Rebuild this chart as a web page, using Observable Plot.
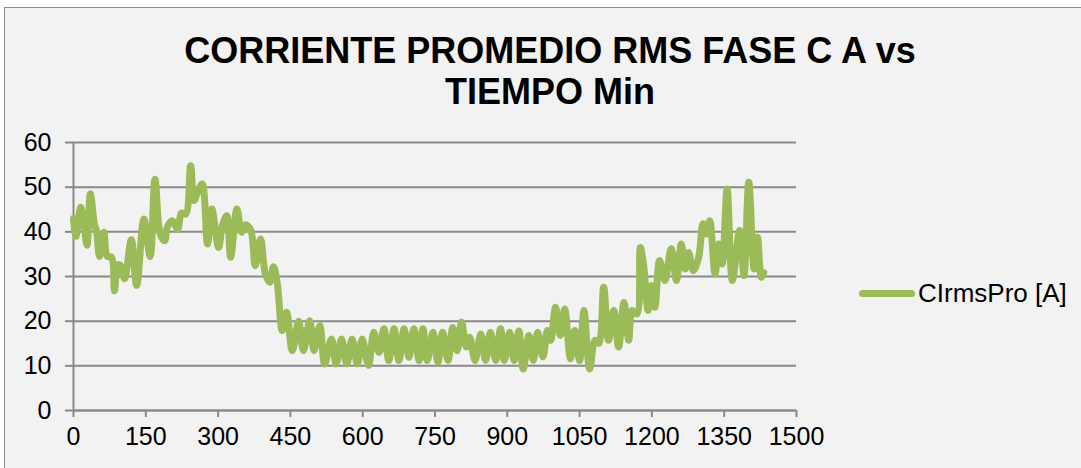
<!DOCTYPE html>
<html>
<head>
<meta charset="utf-8">
<script src="https://cdn.jsdelivr.net/npm/d3@7"></script>
<script src="https://cdn.jsdelivr.net/npm/@observablehq/plot@0.6"></script>
<style>
  html, body { margin: 0; padding: 0; background: #ffffff; }
  #wrap { position: relative; width: 1081px; height: 468px; overflow: hidden; font-family: "Liberation Sans", Arial, sans-serif; }
  #frame { position: absolute; left: 4px; top: 7px; width: 1100px; height: 480px; background: #f2f2f2; border: 1.5px solid #8a8a8a; box-sizing: border-box; }
  #title { position: absolute; left: 0; top: 30px; width: 1100px; text-align: center; font-weight: bold; font-size: 36px; line-height: 41px; color: #000; }
  #chart { position: absolute; left: 0; top: 120px; }
  #legend { position: absolute; left: 859px; top: 277px; height: 32px; display: flex; align-items: center; font-size: 26px; color: #000; }
  #legend .sw { width: 56px; height: 7px; border-radius: 4px; background: #9bbb59; margin-right: 3px; }
</style>
</head>
<body>
<div id="wrap">
  <div id="frame"></div>
  <div id="title">CORRIENTE PROMEDIO RMS FASE C A vs<br>TIEMPO Min</div>
  <div id="chart"></div>
  <div id="legend"><div class="sw"></div><span id="legendText"></span></div>
</div>
<script>
const seriesName = "CIrmsPro [A]";
const minutes = [0,5,15,22,28,35,43,48,54,63,70,79,85,92,98,106,120,131,146,159,169,180,189,195,205,216,224,233,243,250,257,267,278,287,301,309,318,326,339,349,357,368,377,388,398,407,415,423,433,442,454,467,477,490,499,511,521,535,545,556,567,578,589,599,612,623,634,644,654,665,675,686,696,706,717,725,734,746,756,766,777,787,796,805,815,822,833,845,855,865,876,886,894,905,914,924,933,945,954,963,974,983,990,1000,1010,1019,1031,1040,1050,1059,1071,1082,1090,1100,1110,1121,1131,1142,1152,1159,1169,1176,1183,1192,1199,1206,1216,1227,1240,1251,1261,1269,1276,1286,1297,1306,1313,1320,1331,1339,1346,1356,1367,1382,1391,1401,1412,1419,1427,1432];
const current = [43,39,45.5,41.5,37,48.5,42,40,34.5,39.9,34.5,34.3,26.8,32.6,32.4,29.5,38.2,28,42.9,34.5,51.8,39.5,38,41.2,42.5,40.6,44.2,44,54.8,47,48.8,50.7,37.3,45.1,36.5,41.4,43.6,34.3,45.1,39.9,41.6,40.3,32.4,38.4,30.6,28.7,32.2,28.3,17.9,22,13.4,20,13.4,20.1,13.4,19,10.4,16,10.4,16,10.4,16,10.4,16,10.1,17.5,13,18.3,11.2,18.3,11.2,18.3,11.9,18.3,11.2,18.3,11.2,17.5,10.8,17.5,11.2,18.6,13.4,19.8,14.2,16.4,11.2,17.1,11.2,17.5,11.2,18.3,11.2,17.5,11.2,17.8,9.3,16.8,11.2,17.5,12,17.9,15.7,23.1,16.8,22.7,11.6,17.9,11.2,22.4,9.3,15.7,15,27.6,15.7,22.4,14.2,24.2,15.7,22.4,21.6,36.5,32.4,22.4,28,23.1,33.6,29.1,36.2,29.1,37.3,31.7,35.4,31.3,34.3,41.8,39.5,42.5,30.6,37.3,32.8,49.6,29.1,40.3,30.2,51.1,31.7,38.8,29.8,30.9];
const xTicks = [0,150,300,450,600,750,900,1050,1200,1350,1500];
const yTicks = [0,10,20,30,40,50,60];

const data = minutes.map((m, i) => ({m, v: current[i]}));
const gray = "#898989";

const chart = Plot.plot({
  width: 1081,
  height: 348,
  marginLeft: 73,
  marginRight: 285,
  marginTop: 22,
  marginBottom: 58,
  style: {background: "transparent", fontFamily: "'Liberation Sans', Arial, sans-serif", color: "#000", overflow: "visible"},
  x: {domain: [0, 1500]},
  y: {domain: [0, 60]},
  marks: [
    Plot.gridY(yTicks, {stroke: gray, strokeOpacity: 1, strokeWidth: 2}),
    Plot.ruleX([0], {stroke: gray, strokeWidth: 2}),
    Plot.ruleY([0], {stroke: gray, strokeWidth: 2}),
    Plot.axisY(yTicks, {tickSize: 8, tickPadding: 14, fontSize: 25, stroke: gray, strokeWidth: 2, label: null, tickFormat: d => String(d)}),
    Plot.axisX(xTicks, {tickSize: 7, tickPadding: 10, fontSize: 25, stroke: gray, strokeWidth: 2, label: null, tickFormat: d => String(d)}),
    Plot.lineY(data, {x: "m", y: "v", stroke: "#9bbb59", strokeWidth: 7, curve: "catmull-rom"})
  ]
});
document.getElementById("chart").appendChild(chart);
document.getElementById("legendText").textContent = seriesName;
</script>
</body>
</html>
